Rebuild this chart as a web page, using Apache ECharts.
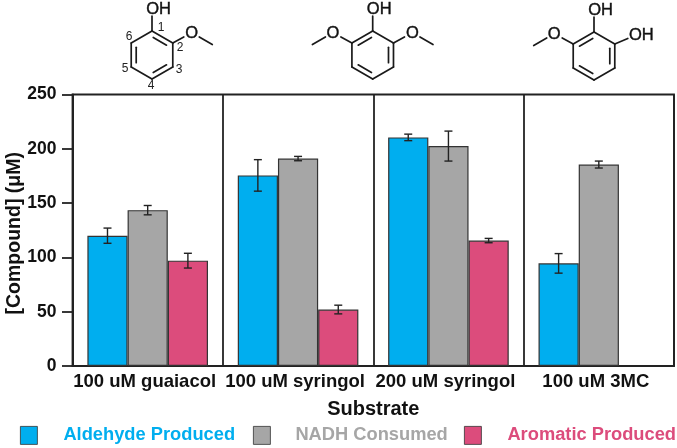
<!DOCTYPE html>
<html><head><meta charset="utf-8">
<script src="https://cdn.jsdelivr.net/npm/echarts@6/dist/echarts.min.js"></script>
<style>html,body{margin:0;padding:0;background:#fff}#c{width:677px;height:448px}</style></head>
<body><div id="c"></div>
<script>
const categories = ['100 uM guaiacol','100 uM syringol','200 uM syringol','100 uM 3MC'];
const seriesNames = ['Aldehyde Produced','NADH Consumed','Aromatic Produced'];
const seriesColors = ['#00AEEF','#A6A6A6','#DC4C7C'];
const aldehyde = [120,175.5,210.5,94.5];
const nadh = [143.5,191,202.5,185.5];
const aromatic = [97,52,115.5,null];
const aldehydeErr = [7,14.5,3,9];
const nadhErr = [4.3,2,13.8,3.2];
const aromaticErr = [6.8,4,2,null];
const yTicks = [0,50,100,150,200,250];
const FONT = '"Liberation Sans", Arial, sans-serif';

const allVals=[aldehyde,nadh,aromatic], allErr=[aldehydeErr,nadhErr,aromaticErr];
const errData=[];
allVals.forEach((v,s)=>v.forEach((y,i)=>{ if(y!=null) errData.push([i,y-allErr[s][i],y+allErr[s][i],s]); }));
const BW=40.2;

function mol(cx,cy,o){
  const r=24, els=[], P=[];
  for(let k=0;k<6;k++){const a=(-90+60*k)*Math.PI/180;P.push([cx+r*Math.cos(a),cy+r*Math.sin(a)]);}
  const ln=(a,b)=>els.push({type:'line',shape:{x1:a[0],y1:a[1],x2:b[0],y2:b[1]},style:{stroke:'#1a1a1a',lineWidth:1.7,lineCap:'round'}});
  for(let k=0;k<6;k++)ln(P[k],P[(k+1)%6]);
  o.dbl.forEach(([i,j])=>{
    const sh=p=>[cx+(p[0]-cx)*0.76,cy+(p[1]-cy)*0.76];
    const a=sh(P[i]),b=sh(P[j]);
    ln([a[0]+(b[0]-a[0])*.08,a[1]+(b[1]-a[1])*.08],[b[0]-(b[0]-a[0])*.08,b[1]-(b[1]-a[1])*.08]);
  });
  const txt=(s,x,y)=>els.push({type:'text',style:{text:s,x,y,fill:'#111',stroke:'#111',lineWidth:0.4,font:`16.5px ${FONT}`,textAlign:'center',textVerticalAlign:'middle'}});
  ln(P[0],[P[0][0],P[0][1]-15]); txt('OH',P[0][0]+6.5,P[0][1]-22);
  const ome=(v,s)=>{ln(v,[v[0]+s*11,v[1]-6]);txt('O',v[0]+s*19,v[1]-10);ln([v[0]+s*26.5,v[1]-6],[v[0]+s*39.5,v[1]+1.5]);};
  if(o.left)ome(P[5],-1);
  if(o.right==='OMe')ome(P[1],1);
  if(o.right==='OH'){ln(P[1],[P[1][0]+13,P[1][1]-5.5]);txt('OH',P[1][0]+26.5,P[1][1]-8.5);}
  return els;
}
function num(cxs){return cxs.map(([s,x,y])=>({type:'text',style:{text:s,x,y,fill:'#222',font:`12px ${FONT}`,textAlign:'center',textVerticalAlign:'middle'}}));}

const graphic=[
  ...mol(152,55,{right:'OMe',dbl:[[0,1],[2,3],[4,5]]}),
  ...num([['1',161,28],['2',180,48],['3',179,70],['4',151,86],['5',125,69],['6',129,37]]),
  ...mol(372.7,55,{left:true,right:'OMe',dbl:[[5,0],[1,2],[3,4]]}),
  ...mol(594,56,{left:true,right:'OH',dbl:[[5,0],[1,2],[3,4]]})
];

const chart=echarts.init(document.getElementById('c'),null,{renderer:'canvas'});
const legendLefts=[20,253,464], textGaps=[43,42,43];
chart.setOption({
  animation:false,
  backgroundColor:'#fff',
  textStyle:{fontFamily:FONT},
  graphic,
  legend:seriesNames.map((n,i)=>({
    data:[n],left:legendLefts[i],top:426,padding:0,itemWidth:17,itemHeight:18,itemGap:0,icon:'rect',
    selectedMode:false,
    itemStyle:{borderColor:'#333',borderWidth:0.8},
    textStyle:{color:seriesColors[i],fontSize:18.3,fontWeight:'bold',fontFamily:FONT,padding:[0,0,0,textGaps[i]-22]}
  })),
  grid:{left:72.5,right:3,top:94.5,bottom:82,outerBoundsMode:'none',show:true,borderColor:'#222',borderWidth:1.8,backgroundColor:'transparent'},
  xAxis:{type:'category',data:categories,
    name:'Substrate',nameLocation:'middle',nameGap:33,
    nameTextStyle:{color:'#111',fontSize:20,fontWeight:'bold',fontFamily:FONT},
    axisLine:{lineStyle:{color:'#222',width:1.8}},axisTick:{show:false},
    splitLine:{show:true,lineStyle:{color:'#222',width:1.8}},
    axisLabel:{color:'#111',fontSize:18.5,fontWeight:'bold',fontFamily:FONT,margin:6,interval:0,padding:[0,6,0,0]}},
  yAxis:{type:'value',min:0,max:250,interval:50,
    name:'[Compound] (\u03BCM)',nameLocation:'middle',nameGap:48,nameMoveOverlap:false,
    nameTextStyle:{color:'#111',fontSize:19.5,fontWeight:'bold',fontFamily:FONT,padding:[0,6,0,0]},
    axisLine:{show:true,lineStyle:{color:'#222',width:1.8}},
    axisTick:{show:true,length:10.5,lineStyle:{color:'#222',width:1.8}},
    splitLine:{show:false},
    axisLabel:{color:'#111',fontSize:17.5,fontWeight:'bold',fontFamily:FONT,margin:16,padding:[0,0,6,0],
      formatter:v=>yTicks.includes(v)?String(v):''}},
  series:[
    ...[aldehyde,nadh,aromatic].map((d,i)=>({
      type:'bar',name:seriesNames[i],data:d,barWidth:BW,barGap:0,
      itemStyle:{color:seriesColors[i],borderColor:'#333',borderWidth:1.2}
    })),
    {type:'custom',name:'err',data:errData,silent:true,z:5,
     encode:{x:0,y:[1,2]},
     renderItem(p,api){
       const i=api.value(0),lo=api.coord([i,api.value(1)]),hi=api.coord([i,api.value(2)]);
       const x=lo[0]+(api.value(3)-1)*BW, cap=4;
       const st={stroke:'#222',lineWidth:1.4,fill:'none'};
       return {type:'group',children:[
         {type:'line',shape:{x1:x,y1:lo[1],x2:x,y2:hi[1]},style:st},
         {type:'line',shape:{x1:x-cap,y1:lo[1],x2:x+cap,y2:lo[1]},style:st},
         {type:'line',shape:{x1:x-cap,y1:hi[1],x2:x+cap,y2:hi[1]},style:st}
       ]};
     }}
  ]
});
</script></body></html>
